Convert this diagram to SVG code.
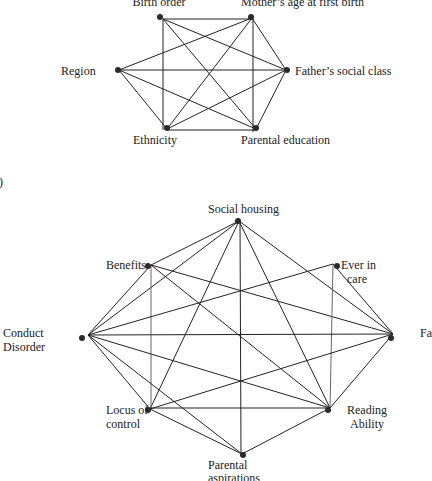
<svg xmlns="http://www.w3.org/2000/svg" width="432" height="481" viewBox="0 0 432 481">
<style>
text{font-family:"Liberation Serif","Times New Roman",serif;font-size:12px;fill:#222}
.e line{stroke:#222;stroke-width:1}
.e line.g{stroke:#666}
.d{fill:#2a2a2a}
</style>
<rect width="432" height="481" fill="#fff"/>
<g id="connectors-top" class="e">
<line x1="163" y1="19" x2="252" y2="19"/>
<line x1="163" y1="19" x2="163" y2="130"/>
<line x1="163" y1="19" x2="286" y2="70"/>
<line x1="163" y1="19" x2="256" y2="129"/>
<line x1="252" y1="18" x2="119" y2="70"/>
<line x1="252" y1="18" x2="167" y2="129"/>
<line x1="253" y1="18" x2="253" y2="132"/>
<line x1="252" y1="18" x2="286" y2="70"/>
<line x1="119" y1="70" x2="286" y2="70"/>
<line x1="119" y1="70" x2="167" y2="129"/>
<line x1="119" y1="70" x2="256" y2="129"/>
<line x1="167" y1="130" x2="256" y2="130"/>
<line x1="167" y1="129" x2="286" y2="70"/>
<line x1="256" y1="129" x2="286" y2="70"/>
</g>
<g id="birth-order"><circle class="d" cx="160" cy="17" r="3"/><text x="159" y="6" text-anchor="middle">Birth order</text></g>
<g id="mothers-age"><circle class="d" cx="251" cy="17" r="3"/><text x="241" y="6">Mother’s age at first birth</text></g>
<g id="region"><circle class="d" cx="118" cy="70" r="3"/><text x="61" y="75">Region</text></g>
<g id="fathers-class"><circle class="d" cx="287" cy="70" r="3"/><text x="295" y="75">Father’s social class</text></g>
<g id="ethnicity"><circle class="d" cx="167" cy="128" r="3"/><text x="133" y="144">Ethnicity</text></g>
<g id="parental-education"><circle class="d" cx="256" cy="128" r="3"/><text x="241" y="144">Parental education</text></g>
<text x="-1" y="186">)</text>
<g id="connectors-bottom" class="e">
<line x1="239" y1="221" x2="151" y2="265"/>
<line x1="239" y1="221" x2="88" y2="335"/>
<line x1="239" y1="221" x2="150" y2="409"/>
<line x1="240" y1="221" x2="241" y2="454"/>
<line x1="239" y1="221" x2="330" y2="408"/>
<line x1="239" y1="221" x2="393" y2="334"/>
<line x1="151" y1="265" x2="88" y2="335"/>
<line class="g" x1="151" y1="265" x2="151" y2="409"/>
<line x1="151" y1="265" x2="330" y2="408"/>
<line x1="151" y1="265" x2="393" y2="334"/>
<line x1="333" y1="264" x2="88" y2="335"/>
<line class="g" x1="333" y1="264" x2="330" y2="408"/>
<line x1="333" y1="264" x2="393" y2="334"/>
<line x1="88" y1="335" x2="393" y2="334"/>
<line x1="88" y1="335" x2="330" y2="408"/>
<line x1="88" y1="335" x2="150" y2="409"/>
<line x1="88" y1="335" x2="242" y2="454"/>
<line x1="150" y1="409" x2="393" y2="334"/>
<line x1="150" y1="408" x2="330" y2="408"/>
<line x1="150" y1="409" x2="242" y2="454"/>
<line x1="330" y1="408" x2="393" y2="334"/>
<line x1="330" y1="408" x2="242" y2="454"/>
</g>
<g id="social-housing"><circle class="d" cx="238" cy="221" r="3"/><text x="208" y="213">Social housing</text></g>
<g id="benefits"><circle class="d" cx="148" cy="266" r="3"/><text x="106" y="269">Benefits</text></g>
<g id="ever-in-care"><circle class="d" cx="337" cy="266" r="3"/><text x="341" y="269">Ever in</text><text x="347" y="283">care</text></g>
<g id="conduct-disorder"><circle class="d" cx="82" cy="338" r="3"/><text x="3" y="337">Conduct</text><text x="3" y="351">Disorder</text></g>
<g id="fa"><circle class="d" cx="391" cy="338" r="3"/><text x="420" y="337">Fa</text></g>
<g id="locus-of-control"><circle class="d" cx="148" cy="410" r="3"/><text x="106" y="414">Locus of</text><text x="106" y="428">control</text></g>
<g id="reading-ability"><circle class="d" cx="328" cy="410" r="3"/><text x="347" y="414">Reading</text><text x="350" y="428">Ability</text></g>
<g id="parental-aspirations"><circle class="d" cx="243" cy="455" r="3"/><text x="208" y="469">Parental</text><text x="208" y="482">aspirations</text></g>
</svg>
